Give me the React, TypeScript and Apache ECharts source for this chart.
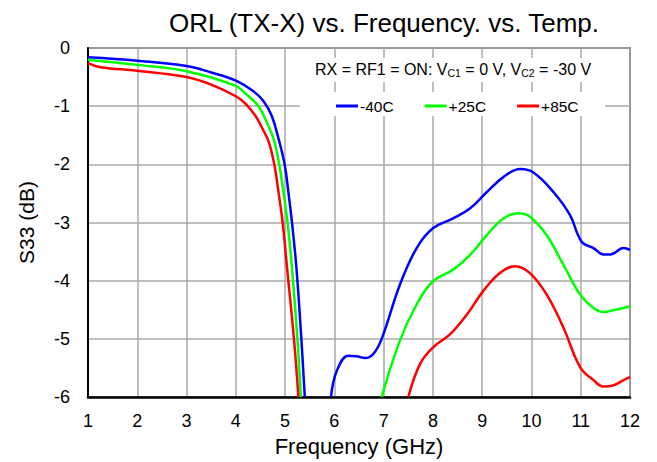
import React, { useEffect, useRef } from "react";
import * as echarts from "echarts";

const FONT = "'Liberation Sans', Arial, sans-serif";

const xTicks = [1, 2, 3, 4, 5, 6, 7, 8, 9, 10, 11, 12];
const yTicks = [0, -1, -2, -3, -4, -5, -6];

const blueLeftF = [1, 2, 3, 3.5, 4, 4.35, 4.56, 4.73, 4.87, 4.99, 5.07, 5.14, 5.23, 5.33, 5.4];
const blueLeftV = [-0.16, -0.22, -0.31, -0.42, -0.56, -0.74, -0.91, -1.17, -1.57, -2.0, -2.5, -3.0, -3.78, -5.0, -6.0];
const blueRightF = [5.93, 6.05, 6.28, 6.45, 6.62, 6.79, 6.96, 7.33, 7.67, 8.0, 8.41, 8.75, 9.09, 9.43, 9.77, 10.04, 10.45, 10.78, 11.02, 11.26, 11.46, 11.6, 11.87, 12];
const blueRightV = [-6.0, -5.55, -5.29, -5.3, -5.33, -5.26, -5.0, -4.07, -3.44, -3.1, -2.93, -2.76, -2.48, -2.22, -2.08, -2.14, -2.48, -2.87, -3.33, -3.44, -3.55, -3.55, -3.44, -3.47];

const greenLeftF = [1, 2, 3, 4, 4.19, 4.46, 4.63, 4.77, 4.88, 4.97, 5.05, 5.14, 5.25, 5.32];
const greenLeftV = [-0.2, -0.29, -0.4, -0.65, -0.78, -1.0, -1.28, -1.57, -2.0, -2.5, -3.0, -3.78, -5.0, -6.0];
const greenRightF = [6.96, 7.33, 7.67, 8.0, 8.41, 8.75, 9.09, 9.43, 9.74, 9.97, 10.31, 10.65, 10.99, 11.26, 11.46, 11.66, 11.87, 12];
const greenRightV = [-6.0, -5.03, -4.41, -4.01, -3.81, -3.56, -3.22, -2.93, -2.84, -2.9, -3.22, -3.73, -4.24, -4.47, -4.54, -4.51, -4.47, -4.44];

const redLeftF = [1, 1.25, 2, 3, 3.5, 4, 4.2, 4.4, 4.55, 4.67, 4.78, 4.87, 4.95, 5.04, 5.18, 5.27];
const redLeftV = [-0.26, -0.33, -0.39, -0.5, -0.63, -0.83, -0.96, -1.17, -1.4, -1.62, -2.0, -2.5, -3.0, -3.78, -5.0, -6.0];
const redRightF = [7.5, 7.74, 8.0, 8.35, 8.69, 9.02, 9.36, 9.67, 9.97, 10.31, 10.65, 10.99, 11.26, 11.46, 11.66, 11.87, 12];
const redRightV = [-6.0, -5.43, -5.15, -4.92, -4.58, -4.18, -3.87, -3.75, -3.87, -4.24, -4.81, -5.49, -5.71, -5.82, -5.8, -5.71, -5.66];

const seriesNames = ["-40C", "+25C", "+85C"];
const seriesColors = ["#0000FF", "#00FF00", "#FF0000"];

function join(lf: number[], lv: number[], rf: number[], rv: number[]) {
  const out: any[] = lf.map((f, i) => [f, lv[i]]);
  out.push([(lf[lf.length - 1] + rf[0]) / 2, null]);
  rf.forEach((f, i) => out.push([f, rv[i]]));
  return out;
}

export default function App() {
  const ref = useRef<HTMLDivElement>(null);
  useEffect(() => {
    if (!ref.current) return;
    const chart = echarts.init(ref.current, undefined, { renderer: "svg" });
    const datasets = [
      join(blueLeftF, blueLeftV, blueRightF, blueRightV),
      join(greenLeftF, greenLeftV, greenRightF, greenRightV),
      join(redLeftF, redLeftV, redRightF, redRightV),
    ];
    chart.setOption({
      animation: false,
      backgroundColor: "#ffffff",
      textStyle: { fontFamily: FONT },
      title: {
        text: "ORL (TX-X) vs. Frequency. vs. Temp.",
        left: 379,
        textAlign: "center",
        top: 5,
        textStyle: { fontSize: 26, fontWeight: "normal", color: "#000", fontFamily: FONT },
      },
      grid: {
        left: 88,
        right: 27,
        top: 48,
        bottom: 62,
        show: true,
        borderColor: "#333",
        borderWidth: 1.5,
        backgroundColor: "transparent",
      },
      legend: {
        left: 331,
        top: 93,
        itemWidth: 22,
        itemHeight: 3,
        itemGap: 31,
        icon: "rect",
        data: seriesNames,
        textStyle: { fontSize: 15.5, color: "#000", fontFamily: FONT, padding: [0, 0, 0, -3] },
        z: 6,
      },
      graphic: [
        { type: "rect", shape: { x: 300, y: 58, width: 305, height: 24 }, style: { fill: "#fff" }, z: 3 },
        { type: "rect", shape: { x: 300, y: 92, width: 305, height: 24 }, style: { fill: "#fff" }, z: 3 },
        {
          type: "text",
          x: 315,
          y: 61,
          z: 5,
          style: {
            text: "RX = RF1 = ON: V{sub|C1} = 0 V, V{sub|C2} = -30 V",
            fontSize: 16,
            fontFamily: FONT,
            fill: "#000",
            rich: {
              sub: { fontSize: 10.5, fontFamily: FONT, fill: "#000", verticalAlign: "bottom", padding: [6, 0, 0, 0] },
            },
          },
        },
      ],
      xAxis: {
        type: "value",
        min: 1,
        max: 12,
        interval: 1,
        name: "Frequency (GHz)",
        nameLocation: "middle",
        nameGap: 38,
        nameTextStyle: { fontSize: 22, color: "#000", fontFamily: FONT },
        axisLine: { show: true, onZero: false, lineStyle: { color: "#000", width: 2.5 } },
        axisTick: { show: false },
        axisLabel: {
          fontSize: 18,
          color: "#000",
          margin: 15,
          fontFamily: FONT,
          formatter: (v: number) => (xTicks.includes(v) ? String(v) : ""),
        },
        splitLine: { show: true, lineStyle: { color: "#a8a8a8", width: 1.5 } },
      },
      yAxis: {
        type: "value",
        min: -6,
        max: 0,
        interval: 1,
        name: "S33 (dB)",
        nameLocation: "middle",
        nameGap: 51,
        nameRotate: 90,
        nameTextStyle: { fontSize: 21, color: "#000", fontFamily: FONT },
        axisLine: { show: true, onZero: false, lineStyle: { color: "#000", width: 2 } },
        axisTick: { show: false },
        axisLabel: {
          fontSize: 18,
          color: "#000",
          margin: 18,
          fontFamily: FONT,
          formatter: (v: number) => (yTicks.includes(v) ? String(v) : ""),
        },
        splitLine: { show: true, lineStyle: { color: "#a8a8a8", width: 1.5 } },
      },
      series: seriesNames.map((n, i) => ({
        name: n,
        type: "line",
        data: datasets[i],
        showSymbol: false,
        symbol: "none",
        smooth: 0.4,
        connectNulls: false,
        clip: true,
        color: seriesColors[i],
        lineStyle: { color: seriesColors[i], width: 2.5 },
        z: 2,
      })),
    });
    return () => chart.dispose();
  }, []);
  return <div ref={ref} style={{ width: 657, height: 462, position: "absolute", left: 0, top: 0 }} />;
}
